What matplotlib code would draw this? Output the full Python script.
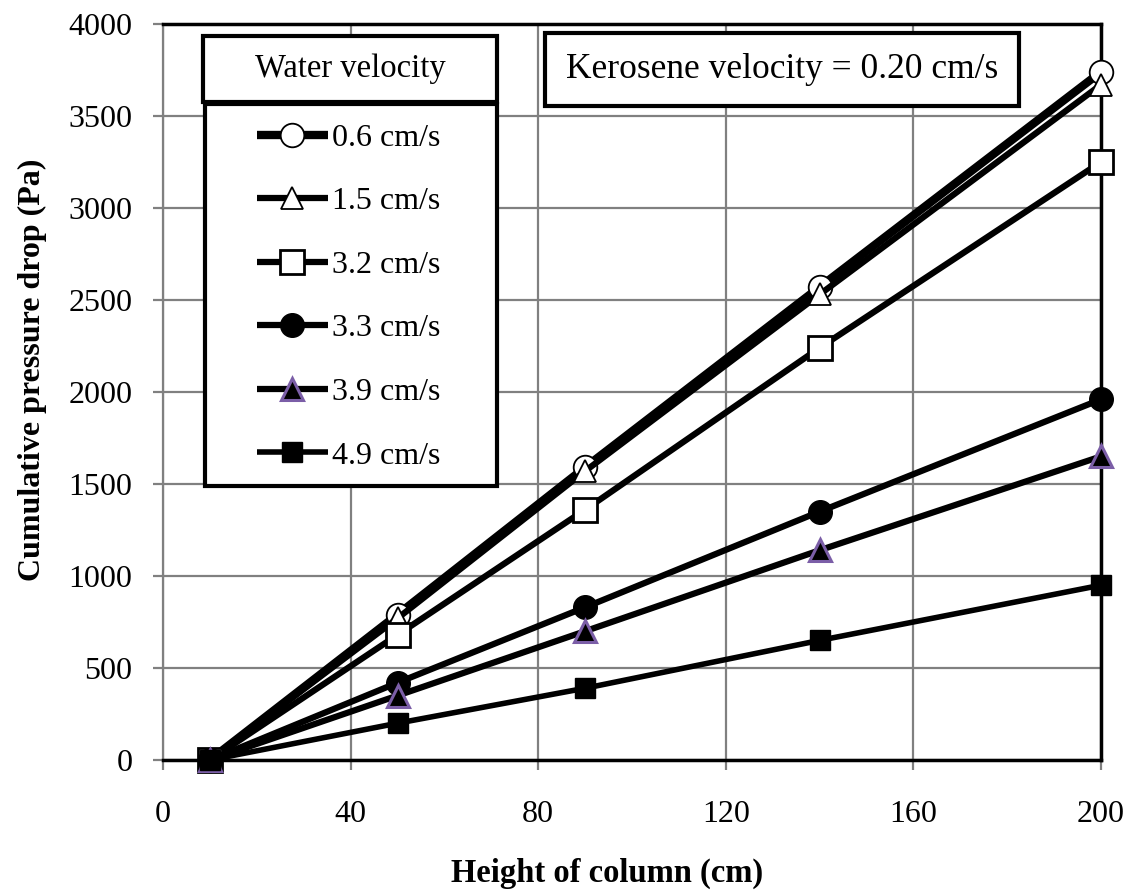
import matplotlib
matplotlib.use("Agg")
import matplotlib.pyplot as plt
from matplotlib.patches import Rectangle

plt.rcParams['font.family'] = ['Liberation Serif', 'DejaVu Serif']

# column heights (cm)
height = [10, 50, 90, 140, 200]

# cumulative pressure drop (Pa) for each water velocity
dp_06 = [0, 790, 1590, 2570, 3740]
dp_15 = [0, 770, 1570, 2530, 3670]
dp_32 = [0, 680, 1360, 2240, 3250]
dp_33 = [0, 420, 830, 1350, 1960]
dp_39 = [0, 350, 700, 1140, 1650]
dp_49 = [0, 200, 390, 650, 950]

labels = ['0.6 cm/s', '1.5 cm/s', '3.2 cm/s', '3.3 cm/s', '3.9 cm/s', '4.9 cm/s']

x_ticks = [0, 40, 80, 120, 160, 200]
y_ticks = [0, 500, 1000, 1500, 2000, 2500, 3000, 3500, 4000]

W, H = 1131, 890
L, R, T, B = 163, 1101, 24, 760   # plot area in pixels

fig = plt.figure(figsize=(W / 100, H / 100), dpi=100)
ax = fig.add_axes([L / W, 1 - B / H, (R - L) / W, (B - T) / H])


def px_to_axes(x, y):
    return (x - L) / (R - L), 1 - (y - T) / (B - T)


styles = [
    dict(lw=6.0, marker='o', ms=17, mfc='white', mec='black', mew=1.3),
    dict(lw=4.5, marker='^', ms=16, mfc='white', mec='black', mew=1.3),
    dict(lw=4.5, marker='s', ms=17, mfc='white', mec='black', mew=2.0),
    dict(lw=4.5, marker='o', ms=17, mfc='black', mec='black', mew=1.0),
    dict(lw=4.5, marker='^', ms=16, mfc='black', mec='#7b5ea7', mew=2.2),
    dict(lw=4.0, marker='s', ms=15, mfc='black', mec='black', mew=1.0),
]
series = [dp_06, dp_15, dp_32, dp_33, dp_39, dp_49]

handles = []
for ys, lab, st in zip(series, labels, styles):
    h, = ax.plot(height, ys, color='black', label=lab, clip_on=False,
                 zorder=3, solid_capstyle='butt', **st)
    handles.append(h)

ax.set_xlim(0, 200)
ax.set_ylim(0, 4000)
ax.set_xticks(x_ticks)
ax.set_yticks(y_ticks)
ax.grid(True, color='#808080', lw=1.6)
ax.set_axisbelow(True)
ax.tick_params(axis='both', labelsize=23, color='#808080', width=1.6,
               length=7, direction='out')
ax.tick_params(axis='x', pad=22)
ax.tick_params(axis='y', pad=15)

for side in ['top', 'right', 'bottom']:
    ax.spines[side].set_linewidth(2.5)
    ax.spines[side].set_color('black')
ax.spines['left'].set_linewidth(1.6)
ax.spines['left'].set_color('#808080')

ax.set_xlabel('Height of column (cm)', fontsize=23.5, fontweight='bold')
ax.xaxis.set_label_coords(*px_to_axes(607, 858))
ax.set_ylabel('Cumulative pressure drop (Pa)', fontsize=23, fontweight='bold')
ax.yaxis.set_label_coords(*px_to_axes(47, 370))


def draw_box(x0, y0, x1, y1, text=None, size=23):
    # white framed box given in pixel coordinates
    ax0, ay1 = px_to_axes(x0, y0)
    ax1, ay0 = px_to_axes(x1, y1)
    ax.add_patch(Rectangle((ax0, ay0), ax1 - ax0, ay1 - ay0,
                           transform=ax.transAxes, facecolor='white',
                           edgecolor='black', lw=3.0, zorder=6, clip_on=False))
    if text:
        ax.text((ax0 + ax1) / 2, (ay0 + ay1) / 2, text,
                transform=ax.transAxes, ha='center', va='center',
                fontsize=size, zorder=7)


draw_box(203, 36, 497, 102, 'Water velocity', 23.5)
draw_box(205, 104, 497, 486)
draw_box(545, 33, 1019, 106, 'Kerosene velocity = 0.20 cm/s', 25.5)

leg = ax.legend(handles=handles, loc='center',
                bbox_to_anchor=px_to_axes(349, 297),
                fontsize=23, frameon=False, borderpad=0,
                labelspacing=1.07, handlelength=2.2, handletextpad=0.15)
leg.set_zorder(8)

fig.savefig('out.png', dpi=100)
